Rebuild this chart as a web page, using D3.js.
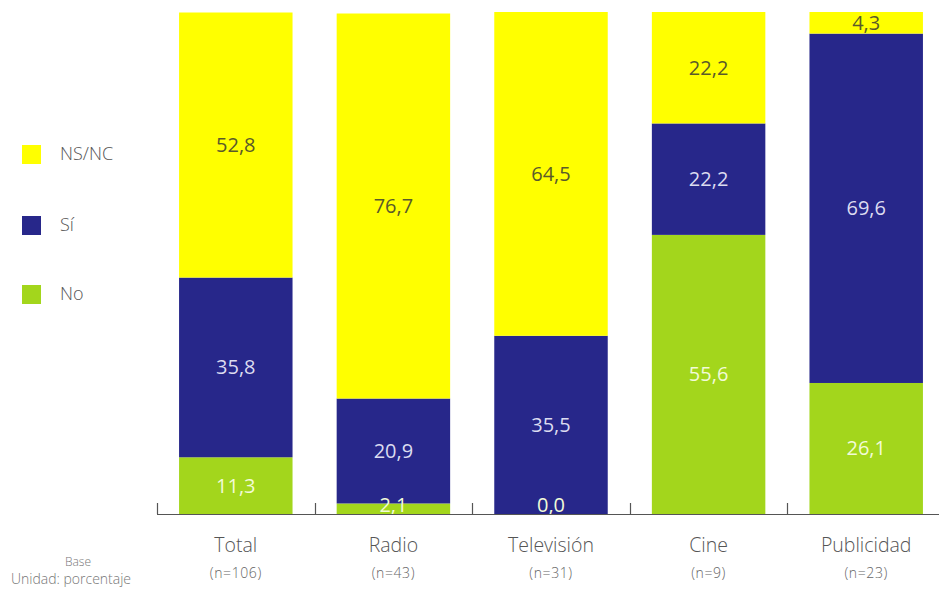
<!DOCTYPE html>
<html><head><meta charset="utf-8">
<script src="https://cdn.jsdelivr.net/npm/d3@7"></script>
<style>body{margin:0;background:#fff;}svg{display:block;font-family:"Open Sans",sans-serif;}</style>
</head><body>
<svg id="c" width="939" height="592"></svg>
<script>
const categories = ["Total","Radio","Televisión","Cine","Publicidad"];
const bases = ["(n=106)","(n=43)","(n=31)","(n=9)","(n=23)"];
const seriesNames = ["No","Sí","NS/NC"];
const noValues = [11.3, 2.1, 0.0, 55.6, 26.1];
const siValues = [35.8, 20.9, 35.5, 22.2, 69.6];
const nsncValues = [52.8, 76.7, 64.5, 22.2, 4.3];
const colors = {"No":"#a3d61c","Sí":"#27278a","NS/NC":"#ffff00"};
const textColors = {"No":"#f2fbd8","Sí":"#dcdcf0","NS/NC":"#5a5a2a"};

const svg = d3.select("#c");
const x = d3.scaleBand().domain(categories).range([157, 945]).paddingInner(0.28).paddingOuter(0.14);
const y = d3.scaleLinear().domain([0, 100]).range([514, 12]);

const rows = categories.map((c,i)=>({cat:c, "No":noValues[i], "Sí":siValues[i], "NS/NC":nsncValues[i]}));
const stacked = d3.stack().keys(seriesNames)(rows);

stacked.forEach(s=>{
  svg.append("g").selectAll("rect").data(s).join("rect")
    .attr("x", d=>x(d.data.cat))
    .attr("width", x.bandwidth())
    .attr("y", d=>y(d[1]))
    .attr("height", d=>y(d[0])-y(d[1]))
    .attr("fill", colors[s.key]);
});

stacked.forEach(s=>{
  svg.append("g").selectAll("text").data(s).join("text")
    .attr("x", d=>x(d.data.cat)+x.bandwidth()/2)
    .attr("y", d=>Math.min((y(d[0])+y(d[1]))/2, y(0)-9))
    .attr("dy","0.35em")
    .attr("text-anchor","middle")
    .attr("font-size", 20)
    .attr("fill", textColors[s.key])
    .text(d=>d3.format(".1f")(d.data[s.key]).replace(".", ","));
});

// axis
const axisG = svg.append("g");
axisG.append("line").attr("x1",157).attr("x2",939).attr("y1",514.5).attr("y2",514.5).attr("stroke","#555").attr("stroke-width",1.2);
const edges = [157].concat(categories.slice(1).map(c=>x(c)-(x.step()-x.bandwidth())/2));
axisG.selectAll("line.t").data(edges).join("line").attr("class","t")
  .attr("x1",d=>Math.round(d)+0.5).attr("x2",d=>Math.round(d)+0.5)
  .attr("y1",503).attr("y2",514).attr("stroke","#555").attr("stroke-width",1.2);

svg.append("g").selectAll("text").data(categories).join("text")
  .attr("x", d=>x(d)+x.bandwidth()/2).attr("y", 552)
  .attr("text-anchor","middle").attr("font-size",19.5).attr("font-weight",300).attr("fill","#555").text(d=>d);
svg.append("g").selectAll("text").data(bases).join("text")
  .attr("x", (d,i)=>x(categories[i])+x.bandwidth()/2).attr("y", 578)
  .attr("text-anchor","middle").attr("font-size",14).attr("letter-spacing",0.6).attr("font-weight",300).attr("fill","#666").text(d=>d);

svg.append("text").attr("x",78).attr("y",566).attr("text-anchor","middle").attr("font-size",12).attr("font-weight",300).attr("fill","#777").text("Base");
svg.append("text").attr("x",71).attr("y",584).attr("text-anchor","middle").attr("font-size",14).attr("font-weight",300).attr("fill","#777").text("Unidad: porcentaje");

// legend
const legendItems = ["NS/NC","Sí","No"];
const legendY = [154, 225, 294];
const lg = svg.append("g").selectAll("g").data(legendItems).join("g")
  .attr("transform",(d,i)=>`translate(22,${legendY[i]})`);
lg.append("rect").attr("x",0).attr("y",-9).attr("width",19).attr("height",19).attr("fill",d=>colors[d]);
lg.append("text").attr("x",38).attr("y",0).attr("dy","0.35em").attr("font-size",18).attr("font-weight",300).attr("fill","#555").text(d=>d);
</script>
</body></html>
